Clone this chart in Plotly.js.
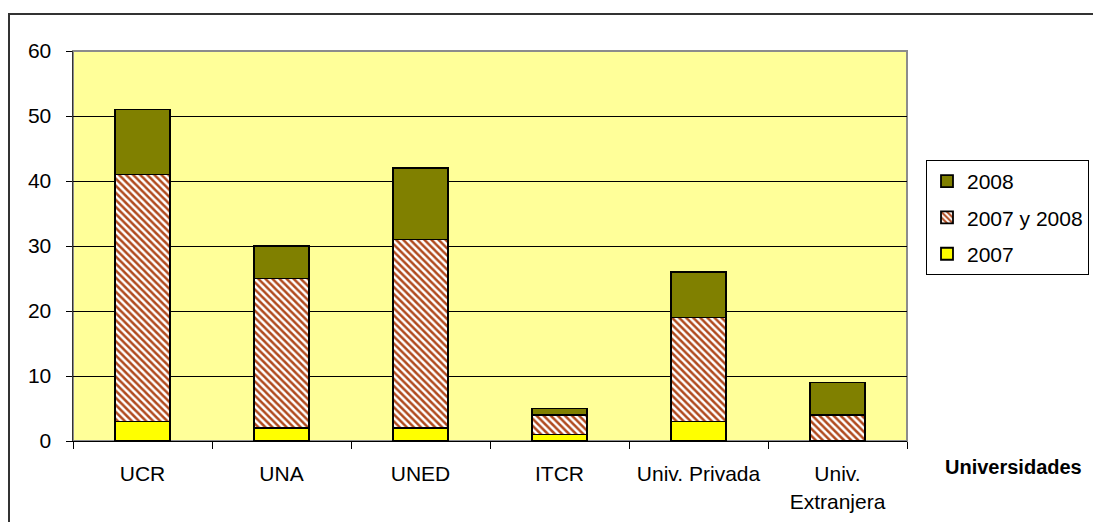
<!DOCTYPE html>
<html><head><meta charset="utf-8">
<script src="https://cdn.plot.ly/plotly-3.0.1.min.js"></script>
<style>html,body{margin:0;padding:0;background:#fff}#chart{width:1093px;height:522px}</style>
</head><body><div id="chart"></div>
<script>
const categories = ["UCR", "UNA", "UNED", "ITCR", "Univ. Privada", "Univ.<br>Extranjera"];
const seriesNames = ["2007", "2007 y 2008", "2008"];
const values2007 = [3, 2, 2, 1, 3, 0];
const valuesBoth = [38, 23, 29, 3, 16, 4];
const values2008 = [10, 5, 11, 1, 7, 5];
const yTicks = [0, 10, 20, 30, 40, 50, 60];

const L = 73, R = 907, T = 51, B = 441, W = 1093, H = 522;
const pw = R - L, ph = B - T;
const px = v => (v - L) / pw;
const py = v => (B - v) / ph;

const font = {family: 'Liberation Sans, Arial, sans-serif', size: 21, color: '#000'};
const outline = {color: '#000', width: 1.8};

const traces = [
  {type: 'bar', name: seriesNames[0], x: categories, y: values2007, legendgroup: 'a', legendrank: 3,
   marker: {color: '#FFFF00', line: outline}},
  {type: 'bar', name: seriesNames[1], x: categories, y: valuesBoth, legendgroup: 'b', legendrank: 2,
   marker: {color: '#ffffff', line: outline,
     pattern: {shape: '\\', fgcolor: '#B04A1E', bgcolor: '#ffffff', size: 5, solidity: 0.5}}},
  {type: 'bar', name: seriesNames[2], x: categories, y: values2008, legendgroup: 'c', legendrank: 1,
   marker: {color: '#808000', line: outline}}
];

const layout = {
  width: W, height: H,
  margin: {l: L, r: W - R, t: T, b: H - B, pad: 0, autoexpand: false},
  paper_bgcolor: '#ffffff', plot_bgcolor: '#FFFF99',
  barmode: 'stack', bargap: 0.6,
  font: font,
  showlegend: true,
  legend: {xref: 'container', yref: 'container', x: 926 / W, y: 1 - 160 / H,
    xanchor: 'left', yanchor: 'top',
    bordercolor: '#000', borderwidth: 1, bgcolor: '#fff',
    traceorder: 'grouped', tracegroupgap: 6, itemwidth: 30,
    font: {family: font.family, size: 21, color: '#000'}},
  xaxis: {type: 'category', tickson: 'boundaries', ticks: 'outside', ticklen: 7,
    tickcolor: '#000', showline: true, linecolor: '#000', linewidth: 1,
    showgrid: false, tickfont: font, ticklabelstandoff: 14, fixedrange: true},
  yaxis: {range: [0, 60], tickvals: yTicks, ticks: 'outside', ticklen: 6,
    tickcolor: '#000', showline: true, linecolor: '#333', linewidth: 1.5,
    showgrid: true, gridcolor: '#000', gridwidth: 1, zeroline: false,
    tickfont: font, ticklabelstandoff: 10},
  shapes: [
    {type: 'rect', xref: 'paper', yref: 'paper', x0: 0, x1: 1, y0: 0, y1: 1,
     line: {color: '#8c8c8c', width: 2}, layer: 'below'},
    {type: 'rect', xref: 'paper', yref: 'paper', x0: px(9), x1: px(1096), y0: py(525), y1: py(14),
     line: {color: '#333', width: 2}}
  ],
  annotations: [
    {text: '<b>Universidades</b>', xref: 'paper', yref: 'paper', x: px(1013), y: py(467),
     xanchor: 'center', yanchor: 'middle', showarrow: false,
     font: {family: font.family, size: 20, color: '#000'}}
  ]
};

Plotly.newPlot('chart', traces, layout, {staticPlot: true});
</script></body></html>
